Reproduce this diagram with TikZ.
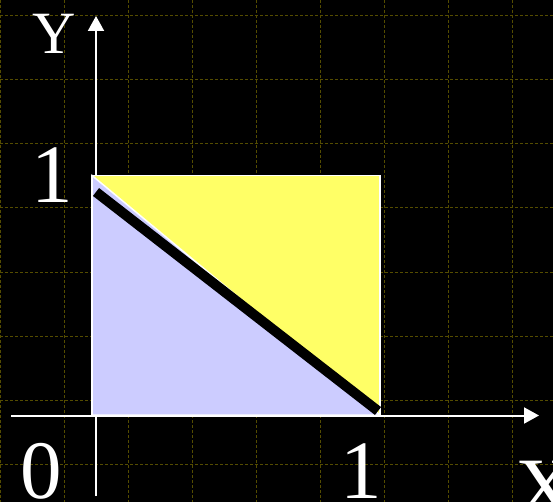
\documentclass[tikz,border=0pt]{standalone}
\usepackage{fontspec}
\setmainfont{Liberation Serif}
\usetikzlibrary{arrows.meta}
\definecolor{GridOlive}{RGB}{84,76,0}
\definecolor{SqYellow}{RGB}{255,255,102}
\definecolor{TriLavender}{RGB}{204,204,255}
\tikzset{
  gridln/.style={GridOlive,line width=1pt,dash pattern=on 3pt off 2pt},
  axisarr/.style={white,line width=2pt,-{Triangle[length=15pt,width=16pt]}},
  region/.style={draw=white,line width=1.5pt,line join=miter},
  lbl/.style={text=white,inner sep=0pt,anchor=base,
              font=\fontsize{83}{83}\selectfont},
}
\begin{document}
\begin{tikzpicture}[x=1pt,y=-1pt]
\useasboundingbox (0,0) rectangle (553,502);
\fill[black] (0,0) rectangle (553,502);

% grid
\foreach \gx in {0,64,...,512}
  \draw[gridln] (\gx,0) -- (\gx,502);
\foreach \gy in {16,80,...,464}
  \draw[gridln] (0,\gy) -- (553,\gy);

% axes
\coordinate (xstart) at (11,415.5);
\coordinate (xend) at (539,415.5);
\coordinate (ystart) at (96,496);
\coordinate (yend) at (96,16);
\draw[axisarr] (xstart) -- (xend);
\draw[axisarr] (ystart) -- (yend);

% unit square and lower triangle
\coordinate (sqA) at (92,415);
\coordinate (sqB) at (380,415);
\coordinate (sqC) at (380,175.5);
\coordinate (sqD) at (92,175.5);
\filldraw[region,fill=SqYellow] (sqA) -- (sqB) -- (sqC) -- (sqD) -- cycle;
\filldraw[region,fill=TriLavender] (sqA) -- (sqB) -- (sqD) -- cycle;

% x + y = 1
\coordinate (lnA) at (96,192);
\coordinate (lnB) at (378,411);
\draw[black,line width=10pt] (lnA) -- (lnB);

% labels
\node[lbl,font=\fontsize{60}{60}\selectfont] (ylbl) at (54.5,54) {Y};
\node[lbl] (onev) at (52,203) {1};
\node[lbl] (zero) at (41,498) {0};
\node[lbl] (oneh) at (361,498) {1};
\node[lbl] (xlbl) at (545,515) {X};
\end{tikzpicture}
\end{document}
